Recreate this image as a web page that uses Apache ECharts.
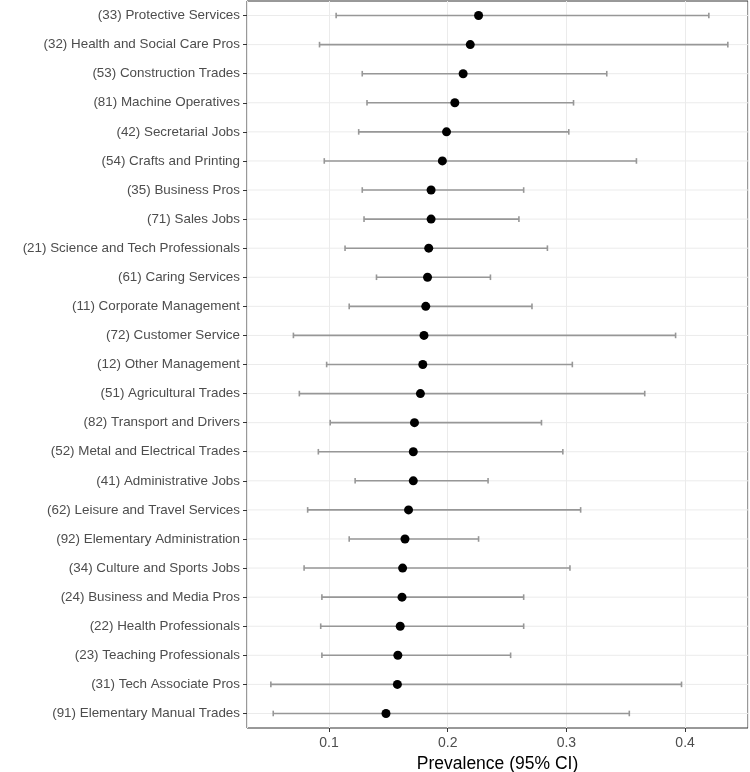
<!DOCTYPE html>
<html>
<head>
<meta charset="utf-8">
<title>Prevalence by occupation</title>
<script src="https://cdn.jsdelivr.net/npm/echarts@6/dist/echarts.min.js"></script>
<style>
  html, body { margin: 0; padding: 0; background: #fff; }
  #chart { width: 750px; height: 772px; }
</style>
</head>
<body>
<div id="chart"></div>
<script>
// occupations, top to bottom
const occupations = [
  '(33) Protective Services',
  '(32) Health and Social Care Pros',
  '(53) Construction Trades',
  '(81) Machine Operatives',
  '(42) Secretarial Jobs',
  '(54) Crafts and Printing',
  '(35) Business Pros',
  '(71) Sales Jobs',
  '(21) Science and Tech Professionals',
  '(61) Caring Services',
  '(11) Corporate Management',
  '(72) Customer Service',
  '(12) Other Management',
  '(51) Agricultural Trades',
  '(82) Transport and Drivers',
  '(52) Metal and Electrical Trades',
  '(41) Administrative Jobs',
  '(62) Leisure and Travel Services',
  '(92) Elementary Administration',
  '(34) Culture and Sports Jobs',
  '(24) Business and Media Pros',
  '(22) Health Professionals',
  '(23) Teaching Professionals',
  '(31) Tech Associate Pros',
  '(91) Elementary Manual Trades'
];

const prevalence = [
  0.226, 0.219, 0.213, 0.206, 0.199, 0.1955, 0.186, 0.186, 0.184, 0.183,
  0.1815, 0.180, 0.179, 0.177, 0.172, 0.171, 0.171, 0.167, 0.164, 0.162,
  0.1615, 0.160, 0.158, 0.1576, 0.148
];

const ciLower = [
  0.106, 0.092, 0.128, 0.132, 0.125, 0.096, 0.128, 0.1295, 0.1135, 0.140,
  0.117, 0.070, 0.098, 0.075, 0.101, 0.091, 0.122, 0.082, 0.117, 0.079,
  0.094, 0.093, 0.094, 0.051, 0.053
];

const ciUpper = [
  0.420, 0.436, 0.334, 0.306, 0.302, 0.359, 0.264, 0.260, 0.284, 0.236,
  0.271, 0.392, 0.305, 0.366, 0.279, 0.297, 0.234, 0.312, 0.226, 0.303,
  0.264, 0.264, 0.253, 0.397, 0.353
];

const xMin = 0.0309;
const xMax = 0.453;

const chart = echarts.init(document.getElementById('chart'), null, { renderer: 'canvas' });

const barData = occupations.map((name, i) => [ciLower[i], ciUpper[i], i]);
const pointData = occupations.map((name, i) => [prevalence[i], i]);
const rowData = occupations.map((name, i) => [i]);

chart.setOption({
  animation: false,
  textStyle: { fontFamily: 'Liberation Sans, Arial, sans-serif' },
  grid: {
    left: 247,
    right: 2,
    top: 1,
    bottom: 44,
    outerBoundsMode: 'none',
    containLabel: false,
    show: true,
    borderColor: '#333333',
    borderWidth: 1,
    backgroundColor: '#ffffff'
  },
  xAxis: {
    type: 'value',
    min: xMin,
    max: xMax,
    splitNumber: 4,
    minInterval: 0.1,
    maxInterval: 0.1,
    name: 'Prevalence (95% CI)',
    nameLocation: 'middle',
    nameGap: 21,
    nameTextStyle: { color: '#000000', fontSize: 17.5 },
    axisLine: { show: false },
    axisTick: { show: true, length: 4, lineStyle: { color: '#333333' } },
    axisLabel: {
      color: '#4D4D4D',
      fontSize: 14,
      margin: 8,
      showMinLabel: false,
      showMaxLabel: false,
      formatter: v => String(+v.toFixed(2))
    },
    splitLine: { show: true, lineStyle: { color: '#EBEBEB', width: 1 } }
  },
  yAxis: {
    type: 'category',
    data: occupations,
    inverse: true,
    axisLine: { show: false },
    axisTick: { show: true, alignWithLabel: true, length: 4, lineStyle: { color: '#333333' } },
    axisLabel: { color: '#4D4D4D', fontSize: 13.4, margin: 7 },
    splitLine: { show: false }
  },
  series: [
    {
      // horizontal grid lines through each category
      type: 'custom',
      z: 1,
      silent: true,
      data: rowData,
      encode: { y: 0 },
      renderItem: (params, api) => {
        const y = api.coord([xMin, api.value(0)])[1];
        const cs = params.coordSys;
        return {
          type: 'line',
          shape: { x1: cs.x, y1: y, x2: cs.x + cs.width, y2: y },
          style: { stroke: '#EBEBEB', lineWidth: 1 }
        };
      }
    },
    {
      type: 'custom',
      name: '95% CI',
      z: 2,
      data: barData,
      encode: { x: [0, 1], y: 2 },
      renderItem: (params, api) => {
        const lo = api.coord([api.value(0), api.value(2)]);
        const hi = api.coord([api.value(1), api.value(2)]);
        const cap = 2.8;
        const style = { stroke: '#979797', lineWidth: 1.6 };
        return {
          type: 'group',
          children: [
            { type: 'line', shape: { x1: lo[0], y1: lo[1], x2: hi[0], y2: hi[1] }, style },
            { type: 'line', shape: { x1: lo[0], y1: lo[1] - cap, x2: lo[0], y2: lo[1] + cap }, style },
            { type: 'line', shape: { x1: hi[0], y1: hi[1] - cap, x2: hi[0], y2: hi[1] + cap }, style }
          ]
        };
      }
    },
    {
      type: 'scatter',
      name: 'Prevalence',
      z: 3,
      data: pointData,
      symbol: 'circle',
      symbolSize: 9,
      itemStyle: { color: '#000000', opacity: 1 }
    }
  ]
});
</script>
</body>
</html>
